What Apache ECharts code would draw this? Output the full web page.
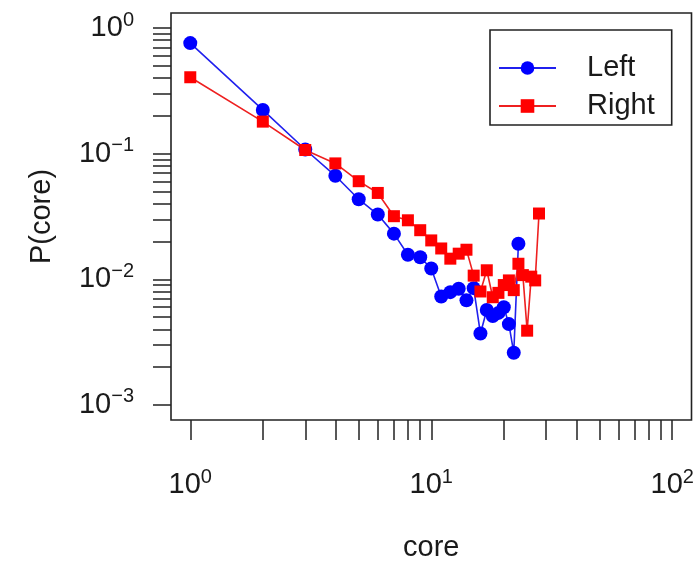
<!DOCTYPE html>
<html><head><meta charset="utf-8">
<script src="https://cdn.jsdelivr.net/npm/echarts@6/dist/echarts.min.js"></script>
<style>html,body{margin:0;padding:0;background:#fff}#c{width:700px;height:571px}</style>
</head><body><div id="c"></div>
<script>
// ---- data ----
const coreLeft = [1,2,3,4,5,6,7,8,9,10,11,12,13,14,15,16,17,18,19,20,21,22,23];
const pLeft = [0.759,0.223,0.108,0.0667,0.0434,0.0328,0.0231,0.0157,0.0150,0.0122,0.0073,0.0079,0.0084,0.0068,0.0085,0.0037,0.0057,0.0051,0.0054,0.0060,0.0044,0.0026,0.0192];
const coreRight = [1,2,3,4,5,6,7,8,9,10,11,12,13,14,15,16,17,18,19,20,21,22,23,24,25,26,27,28];
const pRight = [0.406,0.180,0.107,0.0837,0.0604,0.0487,0.0318,0.0295,0.0246,0.0204,0.0176,0.0146,0.0160,0.0172,0.0107,0.0080,0.0118,0.0072,0.0078,0.0090,0.0098,0.0082,0.0133,0.0108,0.0039,0.0105,0.0098,0.0334];
const seriesNames = ['Left','Right'];
// tick labels (powers of ten)
const xLabelValues = [1,10,100];
const yLabelValues = [0.001,0.01,0.1,1];
const mantissas = [1,2,3,4,5,6,7,8,9];
const xDecades = [1,10];
const yDecades = [0.001,0.01,0.1];

const xTickValues = [];
xDecades.forEach(d => mantissas.forEach(m => xTickValues.push(+(m*d).toPrecision(6))));
xTickValues.push(100);
const yTickValues = [];
yDecades.forEach(d => mantissas.forEach(m => yTickValues.push(+(m*d).toPrecision(6))));
yTickValues.push(1);

const FONT = 'Liberation Sans, Arial, Helvetica, sans-serif';
const TXT = '#1a1a1a';
function powLabel(v){
  const e = Math.round(Math.log10(v));
  if (Math.abs(Math.log10(v) - e) > 1e-6) return '';
  return '{b|10}{s|' + (e < 0 ? '\u2212' + (-e) : e) + '}';
}
const rich = {
  b: {fontSize: 29, lineHeight: 36, color: TXT, fontFamily: FONT},
  s: {fontSize: 20, lineHeight: 18, color: TXT, fontFamily: FONT, verticalAlign: 'top'}
};

const chart = echarts.init(document.getElementById('c'), null, {renderer: 'canvas'});
chart.setOption({
  animation: false,
  backgroundColor: '#fff',
  grid: {left: 171, right: 8.5, top: 13, bottom: 151, show: true, borderColor: '#222', borderWidth: 1.6, outerBoundsMode: 'none', containLabel: false},
  legend: {
    data: seriesNames,
    orient: 'vertical',
    left: 490, top: 30,
    padding: [19, 17, 0, 8],
    itemGap: 0,
    itemWidth: 57, itemHeight: 17,
    borderColor: '#222', borderWidth: 1.6, borderRadius: 0,
    textStyle: {fontSize: 29, fontFamily: FONT, color: TXT, lineHeight: 38, padding: [0,0,0,26]}
  },
  xAxis: {
    type: 'log', logBase: 10,
    min: Math.pow(10, -0.08), max: Math.pow(10, 2.08),
    name: 'core', nameLocation: 'middle', nameGap: 113,
    nameTextStyle: {fontSize: 29, fontFamily: FONT, color: TXT},
    axisLine: {show: false},
    splitLine: {show: false},
    axisTick: {show: true, length: 20, inside: false, customValues: xTickValues, lineStyle: {color: '#222', width: 1.5}},
    axisLabel: {show: true, margin: 47, customValues: xLabelValues, formatter: powLabel, rich: rich, showMinLabel: true, showMaxLabel: true}
  },
  yAxis: {
    type: 'log', logBase: 10,
    min: Math.pow(10, -3.12), max: Math.pow(10, 0.12),
    name: 'P(core)', nameLocation: 'middle', nameGap: 115, nameRotate: 90,
    nameTextStyle: {fontSize: 29, fontFamily: FONT, color: TXT},
    axisLine: {show: false},
    splitLine: {show: false},
    axisTick: {show: true, length: 18, inside: false, customValues: yTickValues, lineStyle: {color: '#222', width: 1.5}},
    axisLabel: {show: true, margin: 37, customValues: yLabelValues, formatter: powLabel, rich: rich}
  },
  series: [
    {name: seriesNames[0], type: 'line', data: coreLeft.map((c,i) => [c, pLeft[i]]),
     symbol: 'circle', symbolSize: 14, itemStyle: {color: '#0000ff'}, lineStyle: {color: '#2020ee', width: 1.6}},
    {name: seriesNames[1], type: 'line', data: coreRight.map((c,i) => [c, pRight[i]]),
     symbol: 'rect', symbolSize: 12, itemStyle: {color: '#ff0000'}, lineStyle: {color: '#ee2020', width: 1.6}}
  ]
});
</script></body></html>
